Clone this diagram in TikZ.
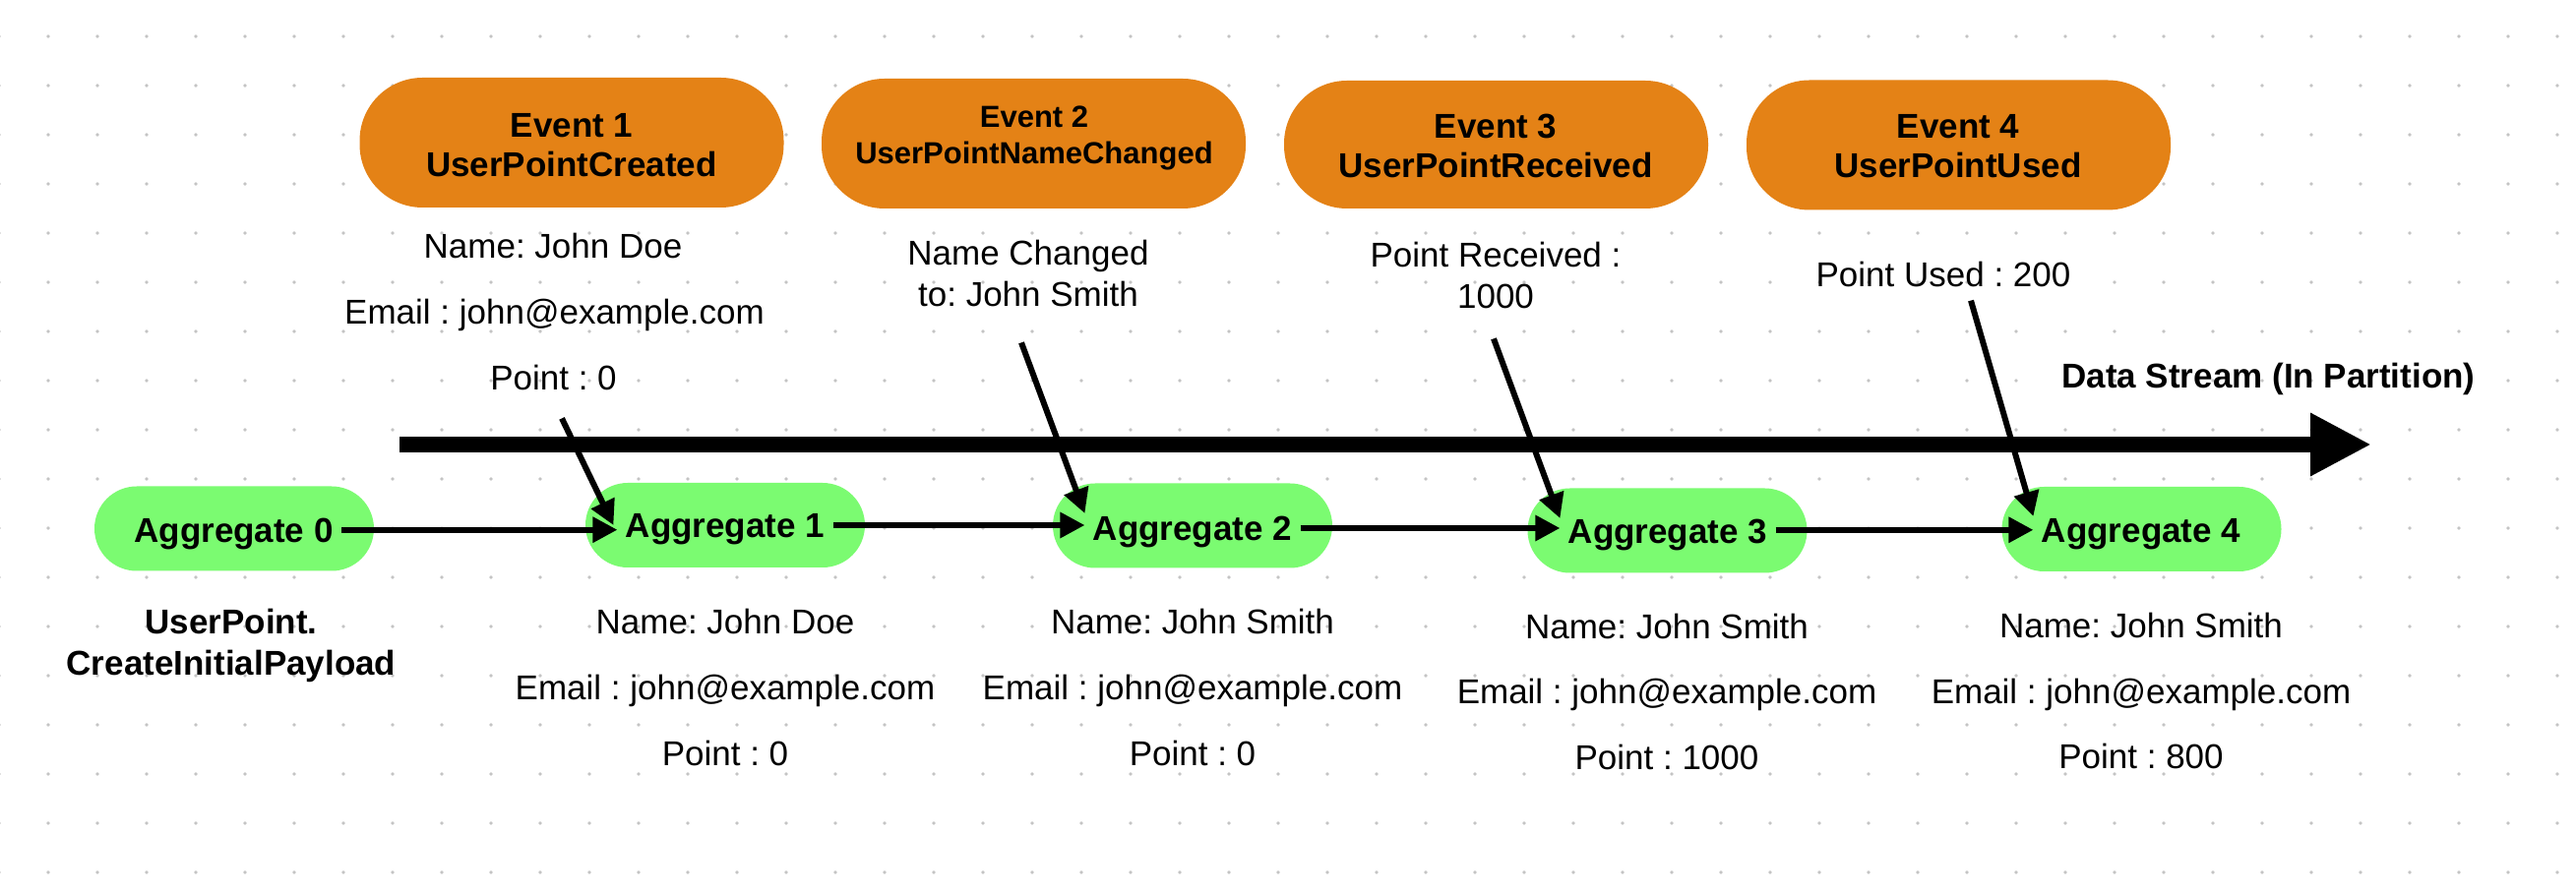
\documentclass[tikz,border=0pt]{standalone}
\usepackage{fontspec}
\setmainfont{Liberation Sans}
\usetikzlibrary{arrows.meta}
\definecolor{evorange}{RGB}{228,130,22}
\definecolor{agggreen}{RGB}{123,251,113}
\definecolor{dotgray}{RGB}{196,196,196}
\newcommand\mlines[1]{\begin{tabular}{@{}c@{}}#1\end{tabular}}
\frenchspacing
\begin{document}
\begin{tikzpicture}[x=0.5pt,y=-0.5pt,
  evbox/.style={fill=evorange,rounded corners=32pt,minimum width=215.5pt,minimum height=66pt,inner sep=0pt},
  aggbox/.style={fill=agggreen,rounded corners=21.5pt,minimum width=142pt,minimum height=43pt,inner sep=0pt},
  reg/.style={font=\fontsize{17.5}{21}\selectfont,inner sep=0pt,text height=12.5pt,text depth=0pt},
  regml/.style={font=\fontsize{17.5}{21}\selectfont,inner sep=0pt},
  boldml/.style={font=\fontsize{17.5}{21}\selectfont\bfseries,inner sep=0pt},
  evtitle/.style={font=\fontsize{17.5}{20}\selectfont\bfseries,inner sep=0pt},
  evtitlesmall/.style={font=\fontsize{15.5}{18.5}\selectfont\bfseries,inner sep=0pt},
  aggtxt/.style={font=\fontsize{17.5}{21}\selectfont\bfseries,inner ysep=0pt,inner xsep=4pt,text height=12.5pt,text depth=0pt},
  boldlabel/.style={font=\fontsize{17.5}{21}\selectfont\bfseries,inner sep=0pt,text height=12.5pt,text depth=0pt},
  conn/.style={line width=3pt,-{Triangle[length=12.5pt,width=12.5pt]}},
  stream/.style={line width=8pt,-{Triangle[length=31pt,width=30pt]}}]

% canvas
\path[use as bounding box,fill=white] (0,0) rectangle (2618,908);
\foreach \i in {0,...,52}{\foreach \j in {0,...,17}{\fill[dotgray] (50*\i-1,37+50*\j) circle[radius=0.9pt];}}

% events
\node[evbox] (e1) at (581,145) {};
\node[evbox] (e2) at (1050.5,146) {};
\node[evbox,minimum height=65pt] (e3) at (1520.5,147) {};
\node[evbox] (e4) at (1990.5,147.5) {};
\node[evtitle] (e1t) at (581,151.5) {\mlines{Event 1\\UserPointCreated}};
\node[evtitlesmall] (e2t) at (1051,140.2) {\mlines{Event 2\\UserPointNameChanged}};
\node[evtitle] (e3t) at (1520,152.5) {\mlines{Event 3\\UserPointReceived}};
\node[evtitle] (e4t) at (1990,153) {\mlines{Event 4\\UserPointUsed}};

% event payloads
\node[reg] (n1) at (562,250.5) {Name: John Doe};
\node[reg] (m1) at (563.5,317.5) {Email : john@example.com};
\node[reg] (p1) at (562.5,384) {Point : 0};
\node[regml] (c2) at (1045,282.6) {\mlines{Name Changed\\to: John Smith}};
\node[regml] (c3) at (1520,284) {\mlines{Point Received :\\1000}};
\node[reg] (c4) at (1975,278.7) {Point Used : 200};

% data stream
\coordinate (dsL) at (406,452);
\coordinate (dsR) at (2410,452);
\draw[stream] (dsL) -- (dsR);
\node[boldlabel,anchor=west] (ds) at (2095,382) {Data Stream (In Partition)};

% aggregates
\node[aggbox] (b0) at (238,537.5) {};
\node[aggbox] (b1) at (737,534) {};
\node[aggbox] (b2) at (1212,534.5) {};
\node[aggbox] (b3) at (1694.5,539.5) {};
\node[aggbox] (b4) at (2176.5,538) {};
\node[aggtxt] (a0) at (237.5,538.7) {Aggregate 0};
\node[aggtxt] (a1) at (737,534) {Aggregate 1};
\node[aggtxt] (a2) at (1212,537) {Aggregate 2};
\node[aggtxt] (a3) at (1695,540.5) {Aggregate 3};
\node[aggtxt] (a4) at (2176,538.8) {Aggregate 4};

% aggregate states
\node[boldml] (ip) at (235,657) {\mlines{UserPoint.\\CreateInitialPayload}};
\node[reg] (s1n) at (737,632) {Name: John Doe};
\node[reg] (s1e) at (737,699) {Email : john@example.com};
\node[reg] (s1p) at (737,766) {Point : 0};
\node[reg] (s2n) at (1212,632) {Name: John Smith};
\node[reg] (s2e) at (1212,699) {Email : john@example.com};
\node[reg] (s2p) at (1212,766) {Point : 0};
\node[reg] (s3n) at (1694,637) {Name: John Smith};
\node[reg] (s3e) at (1694,703) {Email : john@example.com};
\node[reg] (s3p) at (1694,770) {Point : 1000};
\node[reg] (s4n) at (2176,636) {Name: John Smith};
\node[reg] (s4e) at (2176,703) {Email : john@example.com};
\node[reg] (s4p) at (2176,769) {Point : 800};

% connectors
\draw[conn] (a0.east) -- (a0.east -| a1.west);
\draw[conn] (a1.east) -- (a1.east -| a2.west);
\draw[conn] (a2.east) -- (a2.east -| a3.west);
\draw[conn] (a3.east |- a4.west) -- (a4.west);
\draw[conn] ([xshift=4.25pt,yshift=-14.25pt]p1.south) -- ([xshift=-2pt,yshift=0pt]a1.west);
\draw[conn] ([xshift=-3.5pt,yshift=-11.7pt]c2.south) -- ([yshift=7.5pt]a2.west);
\draw[conn] ([xshift=-1pt,yshift=-9pt]c3.south) -- ([yshift=6.75pt]a3.west);
\draw[conn] ([xshift=14pt,yshift=-7pt]c4.south) -- ([yshift=6.9pt]a4.west);
\end{tikzpicture}
\end{document}
